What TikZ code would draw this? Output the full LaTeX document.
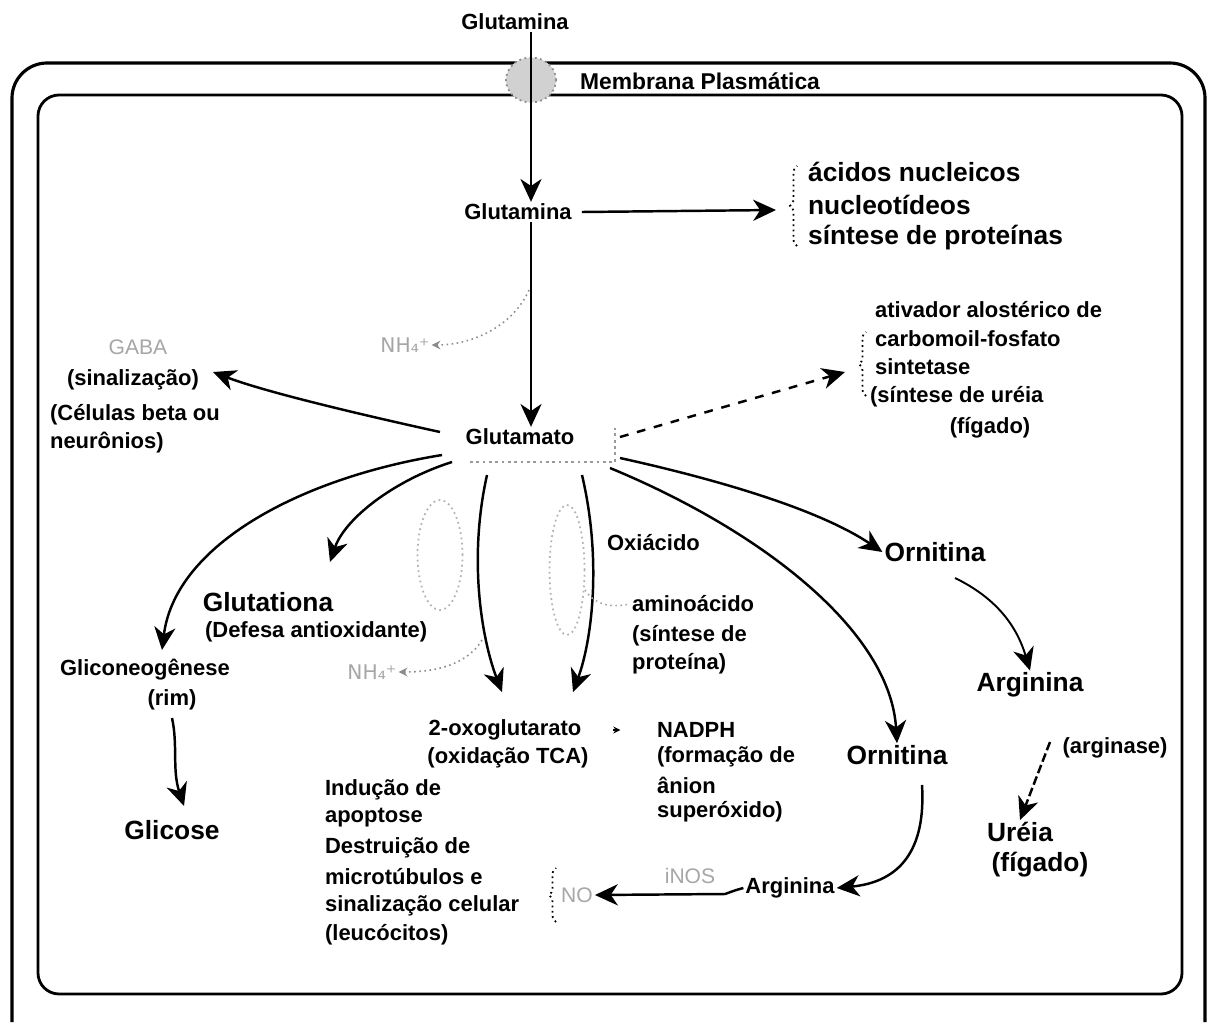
\documentclass[tikz,border=0pt]{standalone}
\usepackage{fontspec}
\setmainfont{Liberation Sans}
\newfontfamily\dejavu{DejaVu Sans}
\usetikzlibrary{arrows.meta,decorations.pathreplacing,shapes.geometric}
\begin{document}
\begin{tikzpicture}[x=0.02cm,y=-0.02cm,
 txt/.style={font=\fontsize{12.5}{14}\selectfont\bfseries, inner sep=1pt},
 big/.style={font=\fontsize{15}{17}\selectfont\bfseries, inner sep=1pt},
 faint/.style={font=\fontsize{12}{14}\selectfont, text=black!35, inner sep=1pt},
 arr/.style={line width=1.4pt, -{Stealth[length=13pt,width=12pt,inset=4pt]}},
 farr/.style={dotted, line width=0.9pt, draw=black!45, -{Stealth[length=5pt,width=5pt]}},
 outerb/.style={line width=1.8pt, rounded corners=20pt},
 innerb/.style={line width=1.6pt, rounded corners=12pt},
 dbrace/.style={dotted, line width=1pt, decorate, decoration={brace, amplitude=4pt}}]
\useasboundingbox (0,0) rectangle (1209,1024);
% borders
\draw[outerb] (12,1022) -- (12,63) -- (1205,63) -- (1205,1022);
\draw[innerb] (38,95) rectangle (1182,994);
% channel
\node[ellipse, draw=black!45, dotted, line width=1pt, fill=black!18, minimum width=1cm, minimum height=0.9cm] (chan) at (531,80) {};
\node[txt] (gltop) at (515,22) {Glutamina};
\node[txt, font=\fontsize{13}{15}\selectfont\bfseries] (mem) at (700,81) {Membrana Plasmática};
\node[txt] (glin) at (518,212) {Glutamina};
\draw[arr] (gltop.south -| chan.center) -- (glin.north -| chan.center);
% nucleic acids
\node[big, anchor=west] (nuc1) at (806,172) {ácidos nucleicos};
\node[big, anchor=west] (nuc2) at (806,205) {nucleotídeos};
\node[big, anchor=west] (nuc3) at (806,238) {síntese de proteínas};
\coordinate (nucin) at (776,210);
\draw[arr] (glin.east) ++(8,0) coordinate (glinr) -- (nucin);
\draw[dbrace] (797,246) -- (797,166);
% glutamato
\node[txt] (glu) at (520,437) {Glutamato};
\draw[black!40, dotted, line width=1.6pt] (470,462) -- (615,462) -- (615,428);
\draw[arr] (glin.south -| chan.center) -- (glu.north -| chan.center);
\node[faint, font=\dejavu\fontsize{11.5}{13}\selectfont] (nh1) at (405,345) {NH₄⁺};
\draw[farr] (529,290) .. controls (512,328) and (470,345) .. (nh1.east);
% GABA
\node[faint] (gaba) at (138,347) {GABA};
\node[txt, anchor=west] (sinal) at (65,380) {(sinalização)};
\node[txt, anchor=west] (cel1) at (48,415) {(Células beta ou};
\node[txt, anchor=west] (cel2) at (48,443) {neurônios)};
\coordinate (gabain) at (213,372);
\draw[arr] (440,432) .. controls (340,410) and (260,390) .. (gabain);
% ativador
\node[txt, anchor=west] (at1) at (873,310) {ativador alostérico de};
\node[txt, anchor=west] (at2) at (873,339) {carbomoil-fosfato};
\node[txt, anchor=west] (at3) at (873,367) {sintetase};
\node[txt, anchor=west] (at4) at (868,397) {(síntese de uréia};
\node[txt] (at5) at (990,428) {(fígado)};
\draw[dbrace] (866,396) -- (866,332);
\coordinate (ativin) at (845,372);
\draw[arr, dash pattern=on 5pt off 5pt] (620,437) -- (ativin);
% Gliconeogenese
\node[txt, anchor=west] (glic1) at (58,670) {Gliconeogênese};
\node[txt] (glic2) at (172,700) {(rim)};
\node[big] (glicose) at (172,830) {Glicose};
\draw[arr] (442,455) .. controls (300,478) and (175,545) .. (162,650);
\draw[arr] (172,718) .. controls (178,745) and (172,770) .. (184,806);
% Glutationa
\node[big] (gsh) at (268,602) {Glutationa};
\node[txt, anchor=west] (gsh2) at (203,632) {(Defesa antioxidante)};
\draw[arr] (452,462) .. controls (395,480) and (345,518) .. (330,562);
% faint ellipses
\node[ellipse, draw=black!30, dotted, line width=1pt, minimum width=0.9cm, minimum height=2.2cm] (e1) at (440,555) {};
\node[ellipse, draw=black!30, dotted, line width=1pt, minimum width=0.7cm, minimum height=2.6cm] (e2) at (567,570) {};
\node[faint, font=\dejavu\fontsize{11.5}{13}\selectfont] (nh2) at (372,672) {NH₄⁺};
\draw[farr] (482,640) .. controls (470,660) and (445,672) .. (nh2.east);
% 2-oxoglutarato arrows
\draw[arr] (487,475) .. controls (468,560) and (482,640) .. (502,692);
\draw[arr] (582,475) .. controls (602,560) and (592,640) .. (573,692);
\node[txt] (oxo1) at (505,730) {2-oxoglutarato};
\node[txt] (oxo2) at (508,758) {(oxidação TCA)};
\node[txt, anchor=west] (oxi) at (605,543) {Oxiácido};
\node[txt, anchor=west] (am1) at (630,604) {aminoácido};
\node[txt, anchor=west] (am2) at (630,636) {(síntese de};
\node[txt, anchor=west] (am3) at (630,664) {proteína)};
\draw[black!35, dotted, line width=0.9pt] (585,590) .. controls (595,605) and (610,608) .. (am1.west);
% NADPH
\node[txt, anchor=west] (nad1) at (655,730) {NADPH};
\node[txt, anchor=west] (nad2) at (655,757) {(formação de};
\node[txt, anchor=west] (nad3) at (655,785) {ânion};
\node[txt, anchor=west] (nad4) at (655,812) {superóxido)};
\draw[line width=0.6pt, -{Stealth[length=4pt,width=4pt]}] (oxo1.east) ++(30,0) coordinate (s1) -- ++(7,0) coordinate (s2);
% Ornitina / Arginina right
\node[big] (orn1) at (935,552) {Ornitina};
\node[big] (arg1) at (1030,685) {Arginina};
\node[txt] (argase) at (1115,748) {(arginase)};
\node[big] (ure1) at (1020,832) {Uréia};
\node[big] (ure2) at (1040,865) {(fígado)};
\draw[arr] (620,458) .. controls (720,480) and (820,510) .. (orn1.west);
\draw[arr, line width=1.1pt] (955,578) .. controls (990,595) and (1015,620) .. (arg1.north);
\draw[arr, dash pattern=on 5pt off 2pt] (1050,742) -- (ure1.north);
% Ornitina lower
\node[big] (orn2) at (897,755) {Ornitina};
\draw[arr] (610,468) .. controls (760,530) and (890,630) .. (orn2.north);
\node[txt] (arg2) at (790,888) {Arginina};
\draw[arr] (922,785) .. controls (926,850) and (900,882) .. (arg2.east);
% NO
\node[faint] (no) at (577,895) {NO};
\node[faint] (inos) at (690,876) {iNOS};
\draw[arr] (arg2.west) .. controls (736,890) .. (725,894) -- (no.east);
\draw[dbrace] (556,922) -- (556,868);
% text block
\node[txt, anchor=west] (t1) at (323,790) {Indução de};
\node[txt, anchor=west] (t2) at (323,818) {apoptose};
\node[txt, anchor=west] (t3) at (323,848) {Destruição de};
\node[txt, anchor=west] (t4) at (323,877) {microtúbulos e};
\node[txt, anchor=west] (t5) at (323,906) {sinalização celular};
\node[txt, anchor=west] (t6) at (323,935) {(leucócitos)};
\end{tikzpicture}
\end{document}
